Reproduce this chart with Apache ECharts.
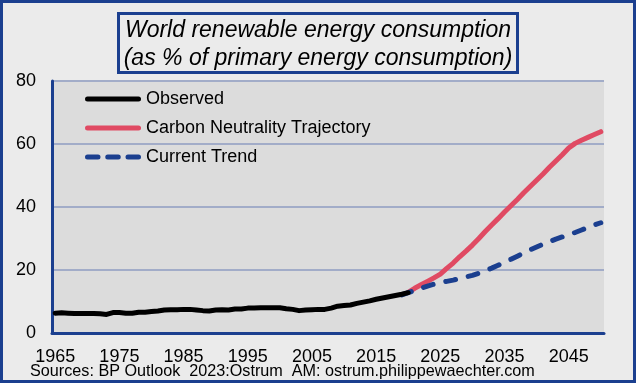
<!DOCTYPE html>
<html>
<head>
<meta charset="utf-8">
<script src="https://cdn.jsdelivr.net/npm/echarts@6/dist/echarts.min.js"></script>
<style>
html,body{margin:0;padding:0;background:#ebebeb;}
#chart{width:636px;height:383px;}
</style>
</head>
<body>
<div id="chart"></div>
<script>
// ---- data ----
const years = [];
for (let y = 1965; y <= 2050; y++) years.push(String(y));

const observedYears = ['1965','1966','1967','1968','1969','1970','1971','1972','1973','1974','1975','1976','1977','1978','1979','1980','1981','1982','1983','1984','1985','1986','1987','1988','1989','1990','1991','1992','1993','1994','1995','1996','1997','1998','1999','2000','2001','2002','2003','2004','2005','2006','2007','2008','2009','2010','2011','2012','2013','2014','2015','2016','2017','2018','2019','2020'];
const observedValues = [6.3,6.4,6.3,6.2,6.2,6.2,6.2,6.1,5.9,6.5,6.5,6.3,6.3,6.6,6.6,6.8,7.0,7.3,7.4,7.4,7.5,7.5,7.3,7.1,7.0,7.3,7.4,7.3,7.6,7.6,7.9,7.9,8.0,8.0,8.0,8.0,7.7,7.5,7.1,7.3,7.4,7.5,7.5,7.9,8.5,8.7,8.9,9.4,9.8,10.2,10.7,11.1,11.5,11.9,12.3,12.8];

const carbonYears = ['2020','2021','2022','2023','2024','2025','2026','2027','2028','2029','2030','2031','2032','2033','2034','2035','2036','2037','2038','2039','2040','2041','2042','2043','2044','2045','2046','2047','2048','2049','2050'];
const carbonValues = [12.9,14.2,15.3,16.4,17.5,18.7,20.5,22.2,24.2,26.0,27.9,30.0,32.2,34.3,36.3,38.4,40.4,42.4,44.5,46.5,48.5,50.5,52.6,54.6,56.6,58.7,60.2,61.2,62.1,63.0,63.9];

const trendYears = ['2019','2020','2021','2022','2023','2024','2025','2026','2027','2028','2029','2030','2031','2032','2033','2034','2035','2036','2037','2038','2039','2040','2041','2042','2043','2044','2045','2046','2047','2048','2049','2050'];
const trendValues = [12.1,12.8,13.5,14.2,14.9,15.5,16.0,16.4,16.8,17.3,17.8,18.3,19.0,19.8,20.6,21.5,22.4,23.4,24.4,25.4,26.4,27.3,28.2,29.0,29.8,30.5,31.2,31.9,32.7,33.5,34.3,35.0];

const yTicks = [0, 20, 40, 60, 80];
const titleLines = ['World renewable energy consumption', '(as % of primary energy consumption)'];
const sourceText = 'Sources: BP Outlook  2023:Ostrum  AM: ostrum.philippewaechter.com';
const seriesNames = ['Observed', 'Carbon Neutrality Trajectory', 'Current Trend'];

// ---- build ----
function pairs(xs, vs) { return xs.map((x, i) => [x, vs[i]]); }

const FONT = '"Liberation Sans", Arial, sans-serif';
const BLUE = '#1b3f8f';

function pill(x0, x1) {
  return 'M' + (x0 + 2.5) + ',0H' + (x1 - 2.5) + 'A2.5,2.5,0,0,1,' + (x1 - 2.5) + ',5H' + (x0 + 2.5) + 'A2.5,2.5,0,0,1,' + (x0 + 2.5) + ',0Z';
}
const ICON_SOLID = 'path://' + pill(0, 56);
const ICON_DASH = 'path://' + pill(0, 15.5) + pill(20.25, 35.75) + pill(40.5, 56);

const chart = echarts.init(document.getElementById('chart'), null, {renderer: 'canvas'});
chart.setOption({
  backgroundColor: '#ebebeb',
  animation: false,
  textStyle: {fontFamily: FONT},
  title: {
    text: titleLines.join('\n'),
    left: 'center',
    top: 13,
    padding: [4, 5, 0, 5],
    borderColor: BLUE,
    borderWidth: 3,
    backgroundColor: '#ebebeb',
    textStyle: {fontFamily: FONT, fontStyle: 'italic', fontWeight: 'normal', fontSize: 23, lineHeight: 28, color: '#000'}
  },
  grid: {left: 52, right: 32, top: 81, bottom: 50, show: true, backgroundColor: '#dcdcdc', borderWidth: 0},
  legend: {
    orient: 'vertical',
    left: 80,
    top: 85,
    itemWidth: 56,
    itemHeight: 5,
    itemGap: 11,
    textStyle: {fontFamily: FONT, fontSize: 18, color: '#000'},
    data: [
      {name: seriesNames[0], icon: ICON_SOLID},
      {name: seriesNames[1], icon: ICON_SOLID},
      {name: seriesNames[2], icon: ICON_DASH}
    ]
  },
  xAxis: {
    type: 'category',
    data: years,
    boundaryGap: true,
    axisLine: {show: true, lineStyle: {color: BLUE, width: 3}},
    axisTick: {show: false},
    axisLabel: {interval: 9, color: '#000', fontSize: 18, fontFamily: FONT, margin: 15},
    splitLine: {show: false}
  },
  yAxis: {
    type: 'value',
    min: yTicks[0],
    max: yTicks[yTicks.length - 1],
    interval: 20,
    axisLine: {show: true, lineStyle: {color: BLUE, width: 3}},
    axisTick: {show: false},
    axisLabel: {color: '#000', fontSize: 18, fontFamily: FONT, margin: 16},
    splitLine: {show: true, lineStyle: {color: '#a2acc8', width: 2}}
  },
  series: [
    {name: seriesNames[0], type: 'line', data: pairs(observedYears, observedValues), symbol: 'none', z: 5,
     lineStyle: {color: '#000', width: 5, cap: 'round', join: 'round'}, itemStyle: {color: '#000'}},
    {name: seriesNames[1], type: 'line', data: pairs(carbonYears, carbonValues), symbol: 'none', z: 3,
     lineStyle: {color: '#e04a63', width: 5, cap: 'round', join: 'round'}, itemStyle: {color: '#e04a63'}},
    {name: seriesNames[2], type: 'line', data: pairs(trendYears, trendValues), symbol: 'none', z: 4,
     lineStyle: {color: '#1b3f8f', width: 5, type: [10, 13], cap: 'round', join: 'round'}, itemStyle: {color: '#1b3f8f'}}
  ],
  graphic: [
    {type: 'rect', shape: {x: 1.5, y: 1.5, width: 633, height: 380}, style: {fill: 'none', stroke: BLUE, lineWidth: 3}, z: 100, silent: true},
    {type: 'text', left: 30, top: 364, style: {text: sourceText, font: '16.2px "Liberation Sans", Arial, sans-serif', fill: '#000'}, z: 100}
  ]
});
</script>
</body>
</html>
